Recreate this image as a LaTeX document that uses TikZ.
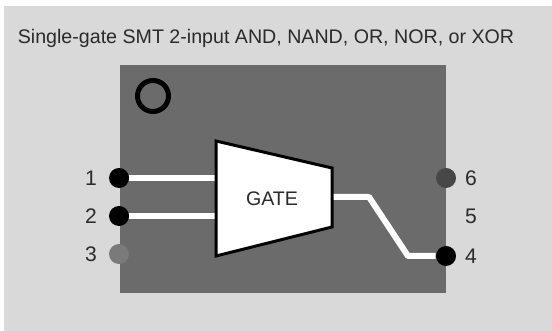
\documentclass[tikz,border=0pt]{standalone}
\usepackage{fontspec}
\setmainfont{Liberation Sans}
\usepackage{xcolor}
\usetikzlibrary{positioning}
\definecolor{panelgray}{HTML}{D9D9D9}
\definecolor{chipgray}{HTML}{6B6B6B}
\definecolor{textgray}{HTML}{2A2A2A}

\begin{document}
\begin{tikzpicture}[
  font=\fontsize{11.17}{13}\selectfont,
  pin/.style={circle, fill=black, inner sep=0pt, minimum size=0.4cm},
  pinlabel/.style={text=textgray, font=\fontsize{12}{14}\selectfont},
  wire/.style={draw=white, line width=0.12cm, line join=round},
  gatebody/.style={draw=black, fill=white, line width=0.06cm, line join=miter}
]
\useasboundingbox (0,0) rectangle (11.04,6.62);
\fill[panelgray] (0.08,0) rectangle (11.04,6.5);
\node[text=textgray, inner sep=0pt] (title) at (5.32,5.85) {Single-gate SMT 2-input AND, NAND, OR, NOR, or XOR};
\node[fill=chipgray, inner sep=0pt, minimum width=6.52cm, minimum height=4.56cm] (chip) at (5.66,3.04) {};
\node[circle, draw=black, line width=0.1cm, inner sep=0pt, minimum size=0.62cm] (dot) at (3.06,4.7) {};
\coordinate (in1) at (4.32,3.06);
\coordinate (in2) at (4.32,2.30);
\coordinate (out) at (6.64,2.68);
\coordinate (bendA) at (7.38,2.68);
\coordinate (bendB) at (8.16,1.5);
\node[pin] (p1) at (2.38,3.06) {};
\node[pin] (p2) at (2.38,2.30) {};
\node[pin, fill=black!52] (p3) at (2.38,1.54) {};
\node[pin, fill=black!72] (p6) at (8.92,3.06) {};
\node[pin] (p4) at (8.92,1.5) {};
\draw[wire] (p1) -- (in1);
\draw[wire] (p2) -- (in2);
\draw[wire] (out) -- (bendA) -- (bendB) -- (p4);
\draw[gatebody] (4.32,3.8) -- (6.64,3.26) -- (6.64,2.08) -- (4.32,1.5) -- cycle;
\node[text=textgray] (gate) at (5.44,2.64) {GATE};
\node[pinlabel] (l1) at (1.82,3.06) {1};
\node[pinlabel] (l2) at (1.82,2.30) {2};
\node[pinlabel] (l3) at (1.82,1.54) {3};
\node[pinlabel] (l6) at (9.42,3.06) {6};
\node[pinlabel] (l5) at (9.42,2.30) {5};
\node[pinlabel] (l4) at (9.42,1.5) {4};
\end{tikzpicture}
\end{document}
